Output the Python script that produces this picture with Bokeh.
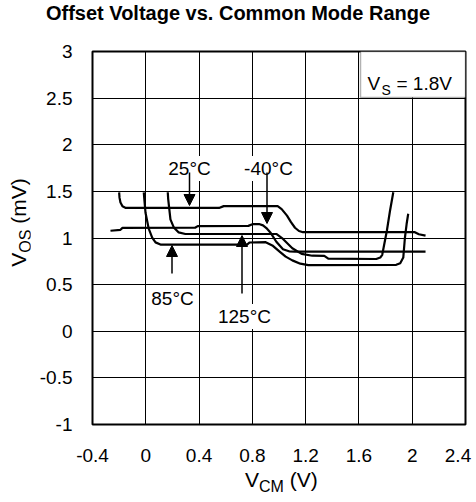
from bokeh.plotting import figure
from bokeh.models import FixedTicker, Label, Arrow, NormalHead, BoxAnnotation, Div
from bokeh.layouts import column, row
from bokeh.embed import file_html
from bokeh.resources import INLINE

# ---------------- data ----------------
X_TICKS = [-0.4, 0, 0.4, 0.8, 1.2, 1.6, 2.0, 2.4]
X_TICK_LABELS = ["-0.4", "0", "0.4", "0.8", "1.2", "1.6", "2", "2.4"]
Y_TICKS = [-1, -0.5, 0, 0.5, 1, 1.5, 2, 2.5, 3]
Y_TICK_LABELS = ["-1", "-0.5", "0", "0.5", "1", "1.5", "2", "2.5", "3"]

T25_X = [-0.2, -0.197, -0.19, -0.175, -0.15, 0.55, 0.585, 0.99, 1.02, 1.06, 1.09, 1.12, 1.15, 1.18, 2.02, 2.05, 2.1]
T25_Y = [1.49, 1.43, 1.38, 1.34, 1.322, 1.322, 1.342, 1.342, 1.31, 1.24, 1.17, 1.11, 1.075, 1.062, 1.062, 1.04, 1.025]

TM40_X = [-0.265, -0.19, -0.175, 0.37, 0.39, 0.77, 0.80, 0.85, 0.88, 0.91, 0.935, 0.98, 1.03, 1.08, 1.12, 2.1]
TM40_Y = [1.078, 1.088, 1.108, 1.11, 1.128, 1.13, 1.148, 1.15, 1.135, 1.10, 1.06, 0.96, 0.88, 0.855, 0.853, 0.853]

T85_X = [-0.015, -0.01, -0.002, 0.022, 0.048, 0.073, 0.11, 0.76, 0.78, 0.90, 0.95, 1.0, 1.05, 1.1, 1.16, 1.22, 1.88, 1.91, 1.933, 1.945, 1.958, 1.97]
T85_Y = [1.49, 1.40, 1.27, 1.10, 1.005, 0.953, 0.93, 0.93, 0.952, 0.955, 0.92, 0.86, 0.80, 0.76, 0.725, 0.71, 0.712, 0.73, 0.79, 1.0, 1.15, 1.26]

T125_X = [0.165, 0.168, 0.185, 0.21, 0.247, 0.297, 0.98, 1.03, 1.1, 1.17, 1.25, 1.34, 1.37, 1.73, 1.76, 1.775, 1.81, 1.833, 1.858]
T125_Y = [1.49, 1.42, 1.20, 1.114, 1.06, 1.043, 1.043, 0.99, 0.89, 0.83, 0.81, 0.808, 0.778, 0.775, 0.79, 0.82, 1.08, 1.29, 1.49]

CURVES = [(T25_X, T25_Y), (TM40_X, TM40_Y), (T85_X, T85_Y), (T125_X, T125_Y)]

TITLE = "Offset Voltage vs. Common Mode Range"

# ---------------- layout ----------------
X0, X1, Y0, Y1 = -0.4, 2.4, -1, 3
FL, FT, FW, FH = 92, 51, 373, 373   # frame position on page (px)
TITLE_H = 39
YLAB_W = 30
BOTTOM = 45
SX = FW / (X1 - X0)
SY = FH / (Y1 - Y0)

def px2x(px):
    return X0 + (px - FL) / SX

def py2y(py):
    return Y1 - (py - FT) / SY

FONT = "Liberation Sans"
NB = "\u00a0"
p = figure(frame_width=FW, frame_height=FH, x_range=(X0, X1), y_range=(Y0, Y1),
           min_border_left=FL - YLAB_W, min_border_top=FT - TITLE_H, min_border_right=476 - FL - FW,
           min_border_bottom=BOTTOM, output_backend="svg", toolbar_location=None,
           background_fill_color="white", border_fill_color="white", margin=0)

p.outline_line_color = "black"
p.outline_line_width = 2

# the last label sits slightly inward in the reference: pad it with a no-break space
x_label_text = list(X_TICK_LABELS)
x_label_text[-1] = x_label_text[-1] + NB

for ax, ticks, labels in ((p.xaxis[0], X_TICKS, x_label_text), (p.yaxis[0], Y_TICKS, Y_TICK_LABELS)):
    ax.ticker = FixedTicker(ticks=ticks)
    ax.major_label_overrides = dict(zip(ticks, labels))
    ax.axis_line_color = None
    ax.major_tick_line_color = None
    ax.minor_tick_line_color = None
    ax.major_label_text_font = FONT
    ax.major_label_text_font_size = "19px"
    ax.major_label_text_color = "black"
p.xaxis.major_label_standoff = 14
p.yaxis.major_label_standoff = 14

for g in (p.xgrid[0], p.ygrid[0]):
    g.grid_line_color = "black"
    g.grid_line_width = 1
    g.grid_line_alpha = 1

for cx, cy in CURVES:
    p.line(cx, cy, line_color="black", line_width=2.2, line_join="round")

# V_S box
box = BoxAnnotation(left=px2x(360), right=X1, bottom=py2y(97), top=Y1,
                    fill_color="white", fill_alpha=1, line_color="black", line_width=1.5)
p.add_layout(box)

def lab(text, px, py, size="19px", align="left", bg=None):
    kw = {}
    if bg:
        kw = dict(background_fill_color=bg, background_fill_alpha=1, padding=2)
    p.add_layout(Label(x=px2x(px), y=py2y(py), text=text, text_font=FONT, text_font_size=size,
                       text_align=align, text_baseline="alphabetic", text_color="black", **kw))

# V_S = 1.8V
lab("V", 367, 83)
lab("S", 381, 89, size="14px")
lab("= 1.8V", 396, 83)

# temperature labels
lab("25°C", 189, 168, align="center", bg="white")
lab("-40°C", 268, 168, align="center", bg="white")
lab("85°C", 172, 298, align="center", bg="white")
lab("125°C", 244, 316, align="center", bg="white")

# arrows (tail px, py) -> (tip px, py)
ARROWS = [((189, 172), (189, 205)), ((266.5, 172), (266.5, 223)),
          ((171.5, 273), (171.5, 245)), ((241.5, 293), (241.5, 235))]
for (tx, ty), (hx, hy) in ARROWS:
    p.add_layout(Arrow(end=NormalHead(size=11, fill_color="black", line_color="black"),
                       x_start=px2x(tx), y_start=py2y(ty), x_end=px2x(hx), y_end=py2y(hy),
                       line_color="black", line_width=1.5))

P_H = (FT - TITLE_H) + FH + BOTTOM

title_div = Div(
    text=(f'<div style="font-family:\'{FONT}\';font-size:20px;font-weight:bold;line-height:20px;'
          f'padding-top:3px;padding-left:4px;text-align:center;width:472px;color:black;white-space:nowrap;">{TITLE}</div>'),
    width=476, height=TITLE_H, margin=0)

# rotated y-axis label: a line box rotated about its centre
YL_CX, YL_CY, YL_W = 17.5, 222.5, 120
ylab_div = Div(
    text=(f'<div style="position:relative;left:{YL_CX - YL_W / 2}px;top:{YL_CY - TITLE_H - 10.5}px;width:{YL_W}px;height:21px;'
          f'transform:rotate(-90deg);transform-origin:50% 50%;text-align:center;'
          f'font-family:\'{FONT}\';font-size:21px;line-height:21px;color:black;white-space:nowrap;">'
          'V<sub style="font-size:16px;line-height:0;">OS</sub> (mV)</div>'),
    width=YLAB_W, height=P_H, margin=0)

xlab_div = Div(
    text=(f'<div style="padding-top:0px;padding-left:245px;font-family:\'{FONT}\';font-size:21px;line-height:21px;'
          'color:black;white-space:nowrap;">V<sub style="font-size:16px;line-height:0;">CM</sub> (V)</div>'),
    width=476, height=502 - TITLE_H - P_H, margin=0)

layout = column(title_div, row(ylab_div, p, spacing=0), xlab_div, spacing=0)

open("out.html", "w").write(file_html(layout, INLINE))
